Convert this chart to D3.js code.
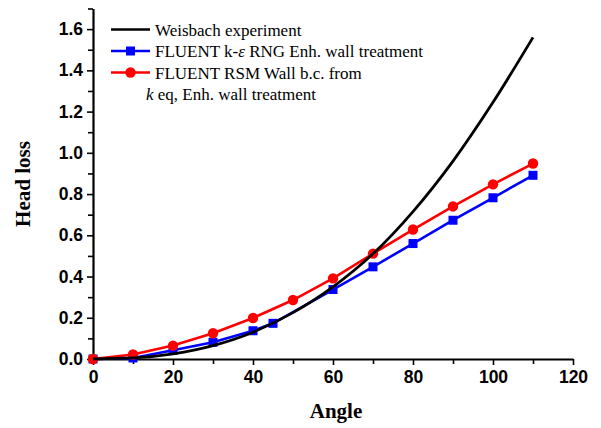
<!DOCTYPE html>
<html>
<head>
<meta charset="utf-8">
<script src="https://cdn.jsdelivr.net/npm/d3@7"></script>
<style>
  body { margin: 0; background: #fff; }
  svg { display: block; }
</style>
</head>
<body>
<script>
'use strict';

// head loss vs bend angle
const weisAngle = [0, 10, 20, 30, 40, 50, 60, 70, 80, 90, 100, 110];
const weisLoss = [0, 0.005, 0.025, 0.065, 0.13, 0.225, 0.35, 0.51, 0.715, 0.96, 1.245, 1.56];

const kepsAngle = [0, 10, 20, 30, 40, 45, 60, 70, 80, 90, 100, 110];
const kepsLoss = [0, 0.005, 0.042, 0.081, 0.137, 0.173, 0.337, 0.447, 0.56, 0.673, 0.782, 0.891];

const rsmAngle = [0, 10, 20, 30, 40, 50, 60, 70, 80, 90, 100, 110];
const rsmLoss = [0, 0.022, 0.065, 0.125, 0.199, 0.286, 0.391, 0.511, 0.628, 0.74, 0.847, 0.948];

const xTicks = [0, 20, 40, 60, 80, 100, 120];
const yTicks = [0, 0.2, 0.4, 0.6, 0.8, 1.0, 1.2, 1.4, 1.6];

const legendLabels = [
  "Weisbach experiment",
  "FLUENT k-\u03b5 RNG Enh. wall treatment",
  "FLUENT RSM Wall b.c. from"
];

const width = 601, height = 428;

const svg = d3.select('body').append('svg')
  .attr('width', width)
  .attr('height', height);

const x = d3.scaleLinear().domain([0, 120]).range([93, 573]);
const y = d3.scaleLinear().domain([0, 1.7]).range([359, 8.5]);

// minor ticks first, then major ticks with labels
svg.append('g')
  .attr('transform', 'translate(0,359)')
  .call(d3.axisBottom(x).tickValues(d3.range(10, 120, 20)).tickSize(5).tickFormat(''))
  .call(g => g.select('.domain').remove());
svg.append('g')
  .attr('transform', 'translate(93,0)')
  .call(d3.axisLeft(y).tickValues(d3.range(1, 18, 2).map(d => d / 10)).tickSize(5).tickFormat(''))
  .call(g => g.select('.domain').remove());

const xAxis = svg.append('g')
  .attr('transform', 'translate(0,359)')
  .call(d3.axisBottom(x).tickValues(xTicks).tickSize(6).tickSizeOuter(0).tickPadding(5).tickFormat(d3.format('d')));
const yAxis = svg.append('g')
  .attr('transform', 'translate(93,0)')
  .call(d3.axisLeft(y).tickValues(yTicks).tickSize(6).tickSizeOuter(0).tickPadding(4).tickFormat(d3.format('.1f')));

svg.selectAll('.tick line').attr('stroke', '#000').attr('stroke-width', 1.6);
svg.selectAll('.domain').attr('stroke', '#000').attr('stroke-width', 2.2);
svg.selectAll('.tick text')
  .attr('fill', '#000')
  .style('font-family', 'Arial, "Liberation Sans", sans-serif')
  .style('font-weight', 'bold')
  .style('font-size', '17.5px');
xAxis.selectAll('.tick text').attr('dy', '0.72em');

// axis titles
svg.append('text')
  .attr('x', 336)
  .attr('y', 418)
  .attr('text-anchor', 'middle')
  .style('font-family', '"Liberation Serif", "Times New Roman", serif')
  .style('font-weight', 'bold')
  .style('font-size', '21px')
  .text('Angle');

svg.append('text')
  .attr('transform', 'translate(30,184)rotate(-90)')
  .attr('text-anchor', 'middle')
  .style('font-family', '"Liberation Serif", "Times New Roman", serif')
  .style('font-weight', 'bold')
  .style('font-size', '21px')
  .text('Head loss');

// series
const line = d3.line().x(d => x(d[0])).y(d => y(d[1]));
const smooth = d3.line().x(d => x(d[0])).y(d => y(d[1])).curve(d3.curveMonotoneX);

const weis = d3.zip(weisAngle, weisLoss);
const keps = d3.zip(kepsAngle, kepsLoss);
const rsm = d3.zip(rsmAngle, rsmLoss);

svg.append('path')
  .datum(keps)
  .attr('fill', 'none')
  .attr('stroke', '#0000ff')
  .attr('stroke-width', 2.6)
  .attr('d', line);

svg.selectAll('.sq')
  .data(keps)
  .enter()
  .append('rect')
    .attr('x', d => x(d[0]) - 4.5)
    .attr('y', d => y(d[1]) - 4.5)
    .attr('width', 9)
    .attr('height', 9)
    .attr('fill', '#0000ff');

svg.append('path')
  .datum(rsm)
  .attr('fill', 'none')
  .attr('stroke', '#ff0000')
  .attr('stroke-width', 2.6)
  .attr('d', line);

svg.selectAll('.dot')
  .data(rsm)
  .enter()
  .append('circle')
    .attr('cx', d => x(d[0]))
    .attr('cy', d => y(d[1]))
    .attr('r', 5.2)
    .attr('fill', '#ff0000');

svg.append('path')
  .datum(weis)
  .attr('fill', 'none')
  .attr('stroke', '#000')
  .attr('stroke-width', 2.8)
  .attr('d', smooth);

// legend
const legFont = '"Liberation Serif", "Times New Roman", serif';
const legY = [29.5, 51, 72.5];
const legColors = ['#000', '#0000ff', '#ff0000'];

legendLabels.forEach(function(label, i) {
  svg.append('line')
    .attr('x1', 111).attr('x2', 150)
    .attr('y1', legY[i]).attr('y2', legY[i])
    .attr('stroke', legColors[i])
    .attr('stroke-width', 2.6);
  if (i === 1) {
    svg.append('rect')
      .attr('x', 126).attr('y', legY[i] - 4.5)
      .attr('width', 9).attr('height', 9)
      .attr('fill', legColors[i]);
  } else if (i === 2) {
    svg.append('circle')
      .attr('cx', 130.5).attr('cy', legY[i])
      .attr('r', 5.2)
      .attr('fill', legColors[i]);
  }
  const t = svg.append('text')
    .attr('x', 155)
    .attr('y', legY[i] + 6)
    .style('font-family', legFont)
    .style('font-size', '17px');
  if (i === 1) {
    t.append('tspan').text('FLUENT k-');
    t.append('tspan').style('font-style', 'italic').text('\u03b5');
    t.append('tspan').text(' RNG Enh. wall treatment');
  } else {
    t.text(label);
  }
});

const l4 = svg.append('text')
  .attr('x', 146)
  .attr('y', 100)
  .style('font-family', legFont)
  .style('font-size', '17px');
l4.append('tspan').style('font-style', 'italic').text('k');
l4.append('tspan').text(' eq, Enh. wall treatment');
</script>
</body>
</html>
